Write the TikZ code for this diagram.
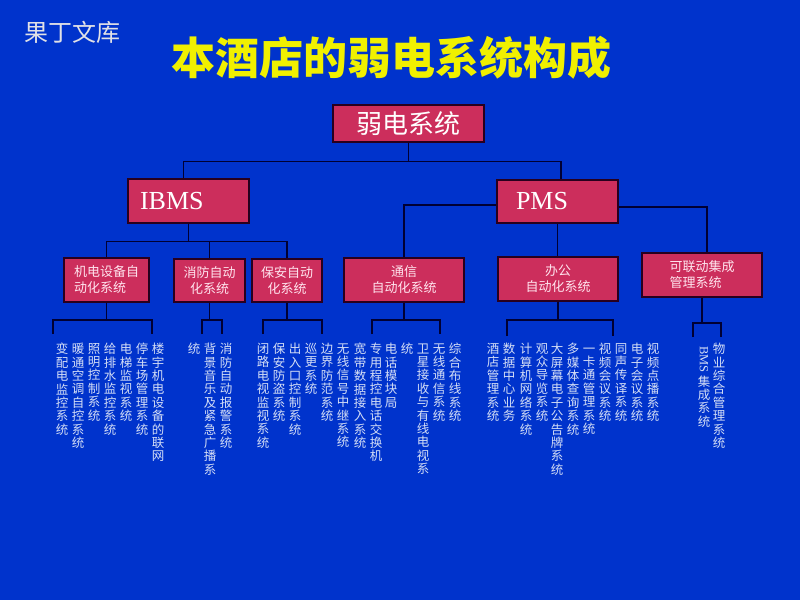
\documentclass[tikz,border=0pt]{standalone}
\usepackage{fontspec}
\usepackage{graphicx}
\setmainfont{Liberation Serif}
\newfontfamily\cjk{Noto Sans CJK SC}
\usetikzlibrary{positioning}
\definecolor{bgblue}{RGB}{0, 51, 204}
\definecolor{boxred}{RGB}{204, 46, 92}
\definecolor{boxline}{RGB}{40, 0, 30}
\definecolor{linkblue}{RGB}{0, 0, 51}
\definecolor{boxtext}{RGB}{255, 228, 238}
\definecolor{coltext}{RGB}{212, 222, 246}
\definecolor{titleyellow}{RGB}{240, 240, 0}
\definecolor{markgray}{RGB}{225, 225, 230}
\tikzset{box/.style = {draw = boxline, fill = boxred, line width = 1.2, inner sep = 0,
    text = boxtext, align = center, font = \cjk\fontsize{13}{16}\selectfont}}
\tikzset{link/.style = {draw = linkblue, line width = 1.4}}
\tikzset{vcol/.style = {anchor = north, inner sep = 0, align = center, text = coltext,
    font = \cjk\fontsize{12.5}{13.4}\selectfont}}
% one character per line
\def\vst#1{\vphantom{国}#1\vstnext}
\def\vstnext#1{\ifx#1\relax\else\\#1\expandafter\vstnext\fi}

\begin{document}
\begin{tikzpicture}[x = 1pt, y = -1pt]
    \fill [bgblue] (0, 0) rectangle (800, 600);
    \useasboundingbox (0, 0) rectangle (800, 600);

    \node [anchor = west, inner sep = 0, text = markgray,
      font = \cjk\fontsize{24}{28}\selectfont] (mark) at (24, 32) {果丁文库};
    \node [inner sep = 0, text = titleyellow,
      font = \cjk\bfseries\fontsize{44}{48}\selectfont] (title) at (391.5, 58) {本酒店的弱电系统构成};

    \node [box, minimum width = 151, minimum height = 37, text = white,
      font = \cjk\fontsize{26}{30}\selectfont] (root) at (408.5, 123.5) {弱电系统};
    \node [box, minimum width = 121, minimum height = 44, text = white, text width = 97,
      align = left, font = \fontsize{26}{30}\selectfont] (ibms) at (188.5, 201) {IBMS};
    \node [box, minimum width = 121, minimum height = 43, text = white, text width = 83,
      align = left, font = \fontsize{26}{30}\selectfont] (pms) at (557.5, 201.5) {PMS};

    \node [box, minimum width = 85, minimum height = 44, align = left] (jd) at (106.5, 280) {机电设备自\\动化系统};
    \node [box, minimum width = 71, minimum height = 43] (xf) at (209.5, 280.5) {消防自动\\化系统};
    \node [box, minimum width = 70, minimum height = 43] (ba) at (287, 280.5) {保安自动\\化系统};
    \node [box, minimum width = 120, minimum height = 44] (tx) at (404, 280) {通信\\自动化系统};
    \node [box, minimum width = 120, minimum height = 44] (bg) at (558, 279) {办公\\自动化系统};
    \node [box, minimum width = 120, minimum height = 44, align = left] (kl) at (702, 275) {可联动集成\\管理系统};

    \draw [link] (root.south) -- ++(0, 19) -| ([xshift = -5pt]ibms.north);
    \draw [link] (root.south) -- ++(0, 19) -| ([xshift = 3.5pt]pms.north);

    \foreach \b in {jd, xf, ba}
      \draw [link] (ibms.south) -- ++(0, 18) -| (\b.north);

    \draw [link] ([yshift = -3.5pt]pms.west) -| (tx.north);
    \draw [link] (pms.south) -- (pms.south |- bg.north);
    \draw [link] ([yshift = -5.5pt]pms.east) -| ([xshift = 5pt]kl.north);

    \foreach \b/\l/\r/\y/\t in {jd/53/152/320/334, xf/202/222/320/334, ba/263/322/320/334,
        tx/372/440/320/334, bg/507/613/320/336, kl/693/721/323/337} {
      \draw [link] (\b.south) |- (\l, \y);
      \draw [link] (\l, \t) |- (\r, \y) -- (\r, \t);
    }

    \foreach \x/\t in {62/变配电监控系统, 78/暖通空调自控系统, 94/照明控制系统,
        110/给排水监控系统, 126/电梯监视系统, 142/停车场管理系统, 158/楼宇机电设备的联网,
        194/统, 210/背景音乐及紧急广播系, 226/消防自动报警系统,
        263/闭路电视监视系统, 279/保安防盗系统, 295/出入口控制系统, 311/巡更系统, 327/边界防范系统,
        343/无线信号中继系统, 360/宽带数据接入系统, 376/专用程控电话交换机, 391/电话模块局,
        407/统, 423/卫星接收与有线电视系, 439/无线通信系统, 455/综合布线系统,
        493/酒店管理系统, 509/数据中心业务, 526/计算机网络系统, 542/观众导览系统,
        557/大屏幕电子公告牌系统, 573/多媒体查询系统, 589/一卡通管理系统, 605/视频会议系统,
        621/同声传译系统, 637/电子会议系统, 653/视频点播系统, 719/物业综合管理系统}
      \node [vcol] (col-\x) at (\x, 343) {\expandafter\vst\t\relax};

    \node [vcol] (bms) at (704, 346) {\rotatebox{-90}{\rmfamily\fontsize{12.5}{12.5}\selectfont BMS}\\[2pt]集\\成\\系\\统};
\end{tikzpicture}
\end{document}
